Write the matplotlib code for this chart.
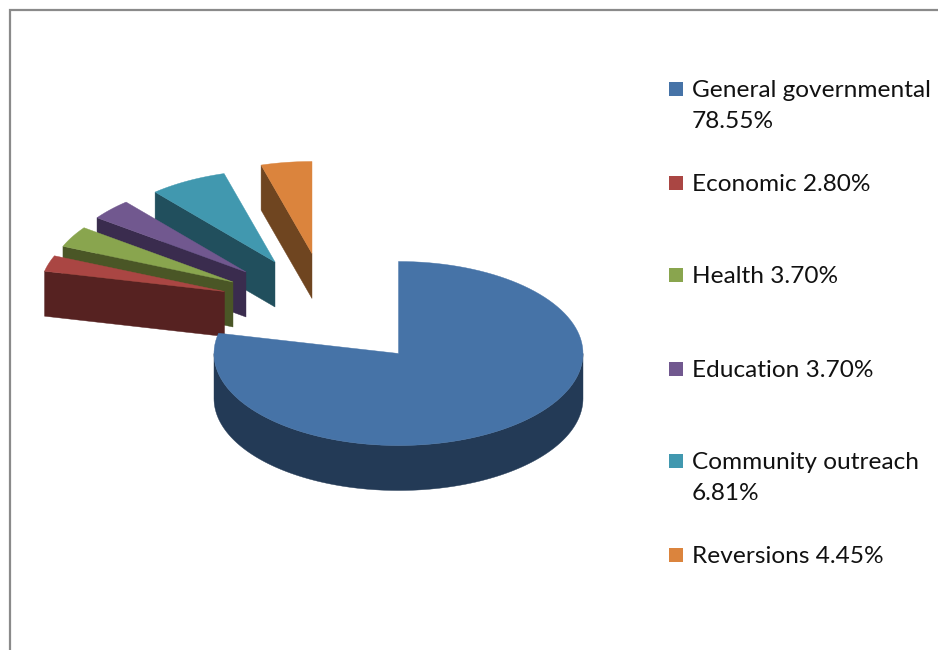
import numpy as np
import matplotlib
matplotlib.use("Agg")
import matplotlib.pyplot as plt
from matplotlib.patches import Polygon, Rectangle

categories = ['General governmental', 'Economic', 'Health', 'Education',
              'Community outreach', 'Reversions']
shares = [78.55, 2.80, 3.70, 3.70, 6.81, 4.45]

# wedge tip of each slice, in pixels
tips_x = [398.5, 224.5, 233, 246, 275, 312]
tips_y = [353.5, 291.5, 282, 272, 262, 253.5]
legend_y = [89, 183, 275, 369, 461, 555]
wrapped = ['General governmental', 'Community outreach']

top_colors = ['#4673A7', '#AA4643', '#89A54E', '#71588F', '#4198AF', '#DB843D']
side_colors = ['#233A56', '#562221', '#4A5626', '#3A2C4E', '#214F5D', '#6F4520']

RX, RY, DEPTH = 184.5, 92, 45


def arc_points(cx, cy, start, end, n=120):
    # angles run clockwise from twelve o'clock, in degrees
    t = np.radians(np.linspace(start, end, n))
    return np.column_stack([cx + RX * np.sin(t), cy - RY * np.cos(t)])


def draw_slice(ax, i, start, end):
    cx, cy = tips_x[i], tips_y[i]
    outer = arc_points(cx, cy, start, end)

    # the visible cut face on the leading edge of the small slices
    if i > 0:
        edge = arc_points(cx, cy, start, start, 1)[0]
        face = [(cx, cy), tuple(edge), (edge[0], edge[1] + DEPTH), (cx, cy + DEPTH)]
        ax.add_patch(Polygon(face, closed=True, fc=side_colors[i], ec=side_colors[i], lw=0.3))

    # rim of the big slice, only the front half shows
    if i == 0:
        rim = arc_points(cx, cy, 90, 270)
        rim_low = rim[::-1] + [0, DEPTH]
        ax.add_patch(Polygon(np.vstack([rim, rim_low]), closed=True,
                             fc=side_colors[i], ec=side_colors[i], lw=0.3))

    top = np.vstack([[cx, cy], outer])
    ax.add_patch(Polygon(top, closed=True, fc=top_colors[i], ec=top_colors[i], lw=0.3))


fig = plt.figure(figsize=(9.38, 6.5), dpi=100)
ax = fig.add_axes([0, 0, 1, 1])
ax.set_xlim(0, 938)
ax.set_ylim(650, 0)
ax.axis('off')

# chart frame, open on the right and at the bottom
ax.plot([9.5, 9.5, 938], [650, 9.5, 9.5], color='#8A8A8A', lw=1.6, solid_joinstyle='miter')

ends = np.cumsum(shares) / np.sum(shares) * 360
starts = np.concatenate([[0], ends[:-1]])

# paint from the back of the fan to the front, big slice last
for i in [5, 4, 3, 2, 1, 0]:
    draw_slice(ax, i, starts[i], ends[i])

for i, name in enumerate(categories):
    y = legend_y[i]
    ax.add_patch(Rectangle((669, y - 7), 14, 14, fc=top_colors[i], ec='none'))
    sep = '\n' if name in wrapped else ' '
    ax.text(692, y - 9, f'{name}{sep}{shares[i]:.2f}%', family='Lato', fontsize=17.6,
            color='#111111', va='top', ha='left', linespacing=1.6)

fig.savefig('out.png', dpi=100)
